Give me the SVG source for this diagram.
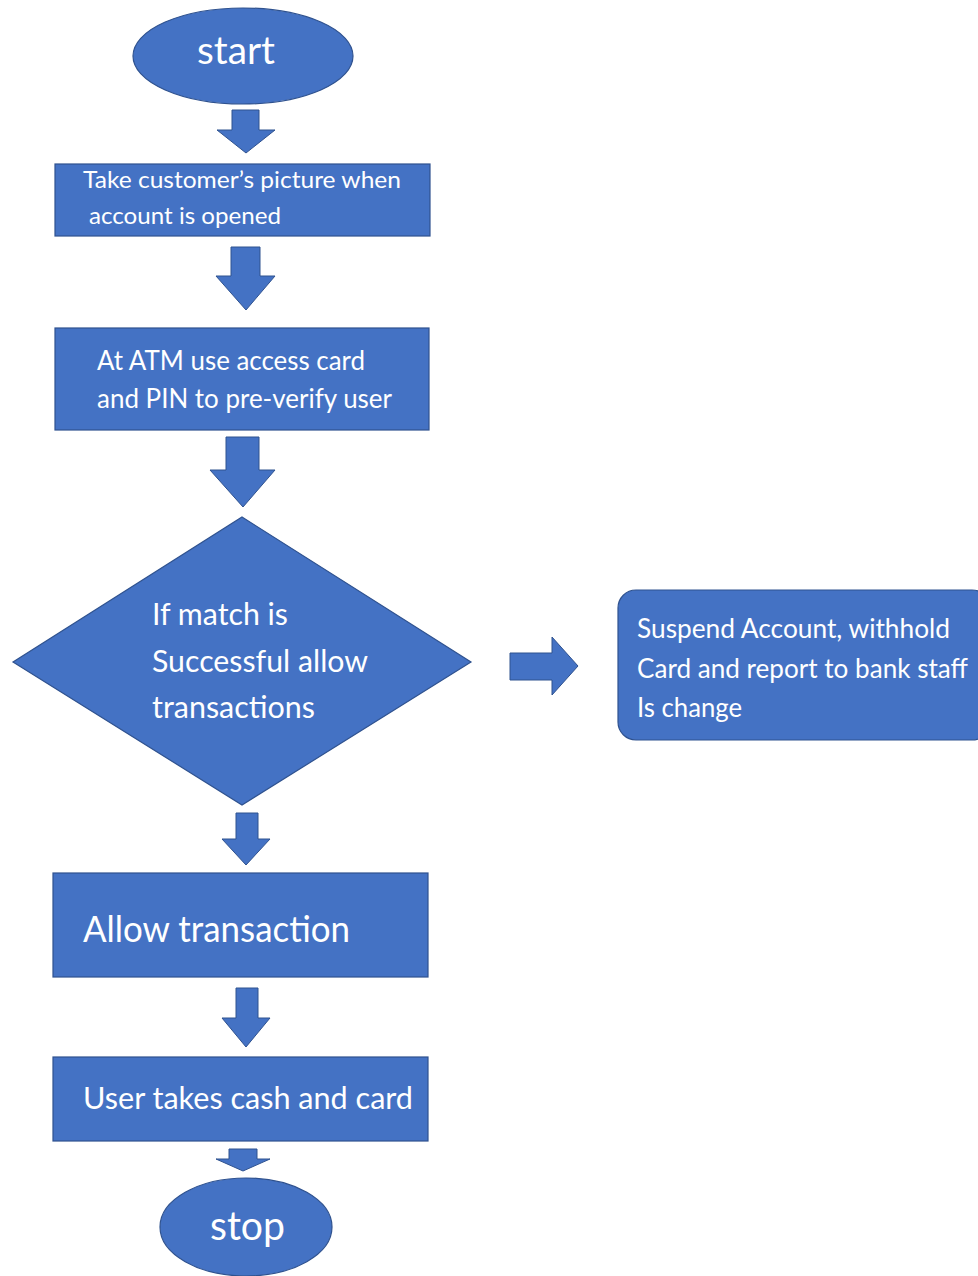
<svg xmlns="http://www.w3.org/2000/svg" width="978" height="1276" viewBox="0 0 978 1276">
<style>
.shape{fill:#4472C4;stroke:#2F528F;stroke-width:1.2}
.arrow{fill:#4472C4;stroke:#2F528F;stroke-width:1}
text{fill:#FFFFFF;font-family:Lato,"Liberation Sans",sans-serif}
</style>
<rect width="978" height="1276" fill="#FFFFFF"/>
<g id="connectors">
<polygon class="arrow" points="232,110 259,110 259,130 275,130 246,153 217,130 232,130"/>
<polygon class="arrow" points="231,247 260,247 260,276 275,276 246,310 216,276 231,276"/>
<polygon class="arrow" points="226,437 259,437 259,470 275,470 243,507 210,470 226,470"/>
<polygon class="arrow" points="510,653 552,653 552,637 578,666 552,695 552,680 510,680"/>
<polygon class="arrow" points="236,813 258,813 258,839 270,839 246,865 222,839 236,839"/>
<polygon class="arrow" points="236,988 258,988 258,1018 270,1018 246,1047 222,1018 236,1018"/>
<polygon class="arrow" points="229,1149 257,1149 257,1159 270,1159 243,1171 216,1159 229,1159"/>
</g>
<g id="start">
<ellipse class="shape" cx="243" cy="56" rx="110" ry="48"/>
<text x="197" y="64" font-size="39" textLength="78" lengthAdjust="spacingAndGlyphs">start</text>
</g>
<g id="take-picture">
<rect class="shape" x="55" y="164" width="375" height="72"/>
<text x="83" y="188" font-size="24" textLength="318" lengthAdjust="spacingAndGlyphs">Take customer’s picture when</text>
<text x="89" y="224" font-size="24" textLength="192" lengthAdjust="spacingAndGlyphs">account is opened</text>
</g>
<g id="atm-verify">
<rect class="shape" x="55" y="328" width="374" height="102"/>
<text x="97" y="370" font-size="26" textLength="268" lengthAdjust="spacingAndGlyphs">At ATM use access card</text>
<text x="97" y="408" font-size="26" textLength="295" lengthAdjust="spacingAndGlyphs">and PIN to pre-verify user</text>
</g>
<g id="decision">
<polygon class="shape" points="242,517 471,662 242,805 13,662"/>
<text x="152" y="625" font-size="30" textLength="136" lengthAdjust="spacingAndGlyphs">If match is</text>
<text x="152" y="672" font-size="30" textLength="216" lengthAdjust="spacingAndGlyphs">Successful allow</text>
<text x="152" y="718" font-size="30" textLength="163" lengthAdjust="spacingAndGlyphs">transactions</text>
</g>
<g id="suspend">
<rect class="shape" x="618" y="590" width="372" height="150" rx="18" ry="18"/>
<text x="637" y="638" font-size="27" textLength="313" lengthAdjust="spacingAndGlyphs">Suspend Account, withhold</text>
<text x="637" y="678" font-size="27" textLength="331" lengthAdjust="spacingAndGlyphs">Card and report to bank staff</text>
<text x="637" y="717" font-size="27" textLength="105" lengthAdjust="spacingAndGlyphs">Is change</text>
</g>
<g id="allow-transaction">
<rect class="shape" x="53" y="873" width="375" height="104"/>
<text x="83" y="942" font-size="36" textLength="267" lengthAdjust="spacingAndGlyphs">Allow transaction</text>
</g>
<g id="user-takes">
<rect class="shape" x="53" y="1057" width="375" height="84"/>
<text x="83" y="1109" font-size="31" textLength="330" lengthAdjust="spacingAndGlyphs">User takes cash and card</text>
</g>
<g id="stop">
<ellipse class="shape" cx="246" cy="1227" rx="86" ry="49"/>
<text x="210" y="1240" font-size="40" textLength="75" lengthAdjust="spacingAndGlyphs">stop</text>
</g>
</svg>
